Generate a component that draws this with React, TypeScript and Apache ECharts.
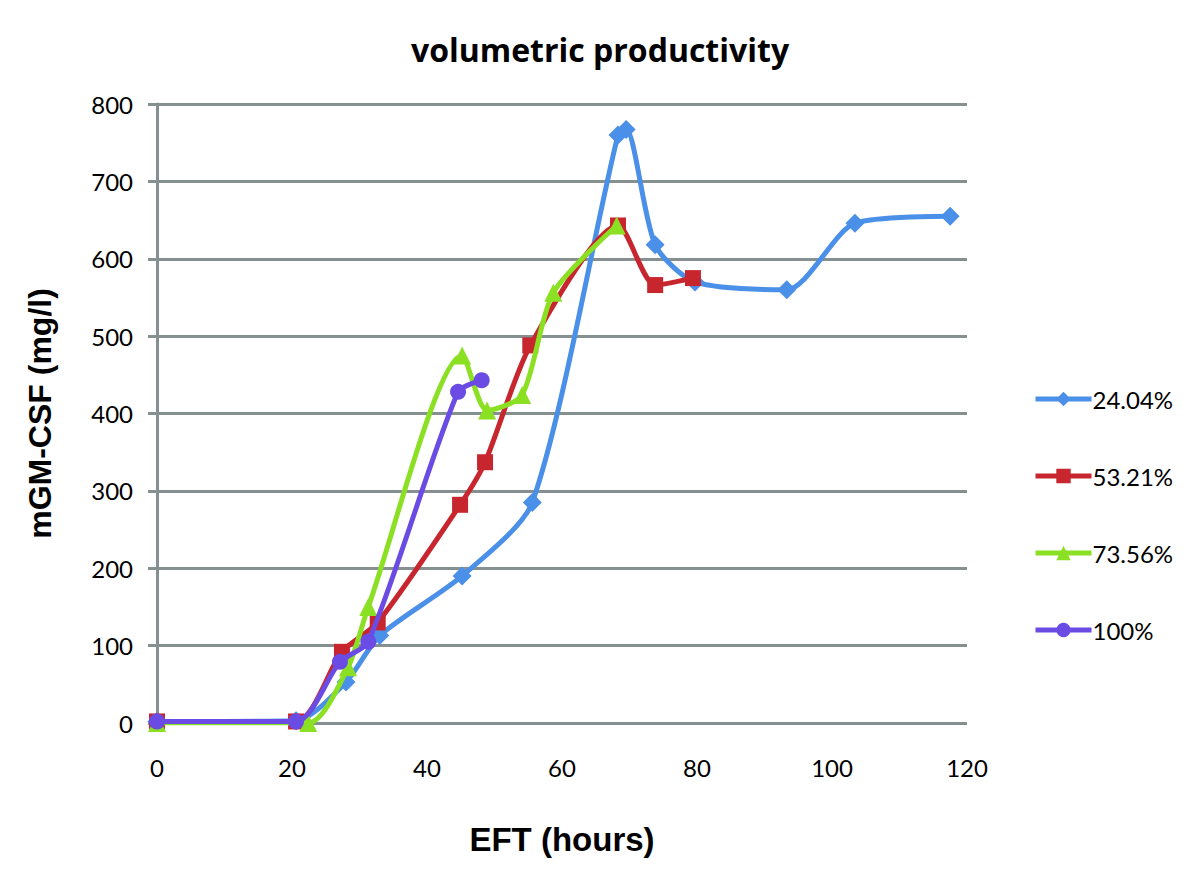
import React, { useEffect, useRef } from "react";
import * as echarts from "echarts";

const seriesNames = ["24.04%", "53.21%", "73.56%", "100%"];
const colors = ["#4a8fe8", "#c8262f", "#8ce024", "#6a4ce4"];
const symbols = ["diamond", "rect", "triangle", "circle"];
const symbolSizes = [19, 16, 18, 16];

const blue: [number, number][] = [
  [0, 2], [20.6, 3], [28, 53], [33, 113], [45.2, 190], [55.6, 285],
  [68.3, 760], [69.5, 767], [73.8, 618], [79.7, 570], [93.3, 560], [103.4, 646], [117.5, 655],
];
const red: [number, number][] = [
  [0, 2], [20.6, 2], [27.4, 92], [32.7, 130], [44.9, 282], [48.6, 337],
  [55.3, 488], [68.3, 643], [73.8, 566], [79.4, 575],
];
const green: [number, number][] = [
  [0, 0], [22.4, 0], [28.3, 72], [31.3, 150], [45.2, 475], [48.9, 404],
  [54.1, 424], [58.7, 556], [68.1, 643],
];
const purple: [number, number][] = [
  [0, 2], [20.6, 2], [27.1, 79], [31.3, 105], [44.6, 428], [48.1, 443],
];
const allData = [blue, red, green, purple];

const gridColor = "#879090";

export default function App() {
  const ref = useRef<HTMLDivElement>(null);
  useEffect(() => {
    const chart = echarts.init(ref.current!, null, { renderer: "svg" });
    chart.setOption({
      animation: false,
      backgroundColor: "#ffffff",
      title: {
        text: "volumetric productivity",
        left: "center",
        top: 20,
        textStyle: { fontFamily: "Open Sans", fontWeight: "bold", fontSize: 32, color: "#000" },
      },
      grid: { left: 149, right: 225, top: 96, bottom: 140, containLabel: false },
      legend: {
        orient: "vertical",
        left: 1020,
        top: 373,
        itemWidth: 56,
        itemHeight: 18,
        itemGap: 51,
        lineStyle: { width: 5 },
        textStyle: { fontFamily: "Lato", fontSize: 24, color: "#000", lineHeight: 26, padding: [0, 0, 0, -4] },
        data: seriesNames,
      },
      xAxis: {
        type: "value",
        min: 0,
        max: 120,
        interval: 20,
        name: "EFT (hours)",
        nameLocation: "middle",
        nameGap: 100,
        nameTextStyle: { fontFamily: "Liberation Sans", fontWeight: "bold", fontSize: 33, color: "#000" },
        axisLine: { show: false },
        axisTick: { show: false },
        splitLine: { show: false },
        axisLabel: { margin: 32, fontFamily: "Lato", fontSize: 24, color: "#000" },
      },
      yAxis: {
        type: "value",
        min: 0,
        max: 800,
        interval: 100,
        name: "mGM-CSF (mg/l)",
        nameLocation: "middle",
        nameGap: 101,
        nameTextStyle: { fontFamily: "Liberation Sans", fontWeight: "bold", fontSize: 32, color: "#000" },
        axisLine: { show: true, lineStyle: { color: gridColor, width: 3 } },
        axisTick: { show: true, inside: false, length: 9, lineStyle: { color: gridColor, width: 3 } },
        splitLine: { show: true, lineStyle: { color: gridColor, width: 3 } },
        axisLabel: { margin: 24, fontFamily: "Lato", fontSize: 24, color: "#000" },
      },
      series: allData.map((d, i) => ({
        name: seriesNames[i],
        type: "line",
        data: d,
        smooth: 0.25,
        symbol: symbols[i],
        symbolSize: symbolSizes[i],
        showSymbol: true,
        lineStyle: { color: colors[i], width: 5 },
        itemStyle: { color: colors[i] },
        z: 2 + i,
      })),
    });
    return () => chart.dispose();
  }, []);
  return <div ref={ref} style={{ width: 1184, height: 855 }} />;
}
